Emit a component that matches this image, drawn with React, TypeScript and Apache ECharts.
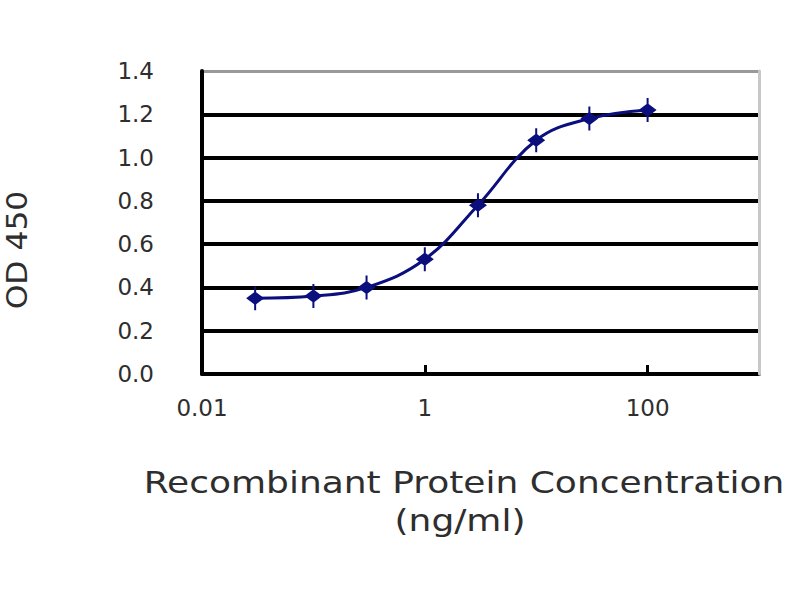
import React, { useEffect, useRef } from "react";
import * as echarts from "echarts";

const concentrations = [0.03, 0.1, 0.3, 1, 3, 10, 30, 100];
const od450 = [0.35, 0.36, 0.4, 0.53, 0.78, 1.08, 1.18, 1.22];
const xTickValues = [0.01, 1, 100];
const xTickLabels = ["0.01", "1", "100"];
const xAxisTitle = "Recombinant Protein Concentration";
const xAxisUnit = "(ng/ml)";
const yAxisTitle = "OD 450";

const TEXT = "#2e2e2e";
const FONT = "DejaVu Sans";

export default function App() {
  const ref = useRef<HTMLDivElement>(null);

  useEffect(() => {
    if (!ref.current) return;
    const chart = echarts.init(ref.current, undefined, { renderer: "svg" });
    const data = concentrations.map((c, i) => [c, od450[i]]);
    chart.setOption({
      animation: false,
      backgroundColor: "#ffffff",
      grid: { left: 202, right: 41, top: 71, bottom: 226, containLabel: false },
      xAxis: [
        {
          type: "log",
          logBase: 100,
          min: 0.01,
          max: 1000,
          axisLine: { show: true, lineStyle: { color: "#000", width: 4 } },
          axisTick: { show: true, inside: true, length: 9, lineStyle: { color: "#000", width: 3 } },
          axisLabel: {
            margin: 22,
            color: TEXT,
            fontFamily: FONT,
            fontSize: 23,
            showMaxLabel: true,
            formatter: (v: number) => {
              const idx = xTickValues.findIndex((t) => Math.abs(Math.log10(v) - Math.log10(t)) < 0.01);
              return idx >= 0 ? xTickLabels[idx] : "";
            },
          },
          splitLine: { show: false },
        },
        {
          type: "value",
          position: "top",
          min: 0,
          max: 1,
          z: 1,
          axisLine: { show: true, onZero: false, lineStyle: { color: "#999999", width: 3 } },
          axisTick: { show: false },
          axisLabel: { show: false },
          splitLine: { show: false },
        },
      ],
      yAxis: [
        {
          type: "value",
          min: 0,
          max: 1.4,
          interval: 0.2,
          z: 2,
          axisLine: { show: true, lineStyle: { color: "#000", width: 4 } },
          axisTick: { show: false },
          axisLabel: {
            margin: 48,
            color: TEXT,
            fontFamily: FONT,
            fontSize: 23,
            formatter: (v: number) => v.toFixed(1),
          },
          splitLine: {
            show: true,
            showMaxLine: false,
            lineStyle: { color: "#000", width: 4 },
          },
        },
        {
          type: "value",
          position: "right",
          min: 0,
          max: 1,
          z: 10,
          axisLine: { show: true, onZero: false, lineStyle: { color: "#c8c8c8", width: 3 } },
          axisTick: { show: false },
          axisLabel: { show: false },
          splitLine: { show: false },
        },
      ],
      series: [
        {
          type: "line",
          xAxisIndex: 0,
          yAxisIndex: 0,
          data,
          smooth: 0.4,
          lineStyle: { color: "#0b0f7d", width: 3 },
          itemStyle: { color: "#0b0f7d" },
          symbol: "path://M8 0 L10 0 L10 6 L18 12 L10 18 L10 24 L8 24 L8 18 L0 12 L8 6 Z",
          symbolSize: [18, 24],
          z: 5,
        },
      ],
      graphic: [
        {
          type: "text",
          x: 464,
          y: 483,
          scaleX: 1.2,
          style: {
            text: xAxisTitle,
            fill: TEXT,
            font: `30px "${FONT}"`,
            textAlign: "center",
            textVerticalAlign: "middle",
          },
        },
        {
          type: "text",
          x: 460,
          y: 521,
          scaleX: 1.2,
          style: {
            text: xAxisUnit,
            fill: TEXT,
            font: `30px "${FONT}"`,
            textAlign: "center",
            textVerticalAlign: "middle",
          },
        },
        {
          type: "text",
          x: 17,
          y: 250,
          rotation: Math.PI / 2,
          scaleX: 1.12,
          style: {
            text: yAxisTitle,
            fill: TEXT,
            font: `28px "${FONT}"`,
            textAlign: "center",
            textVerticalAlign: "middle",
          },
        },
      ],
    });
    return () => chart.dispose();
  }, []);

  return (
    <div
      ref={ref}
      style={{ position: "fixed", left: 0, top: 0, width: 800, height: 600, background: "#fff" }}
    />
  );
}
